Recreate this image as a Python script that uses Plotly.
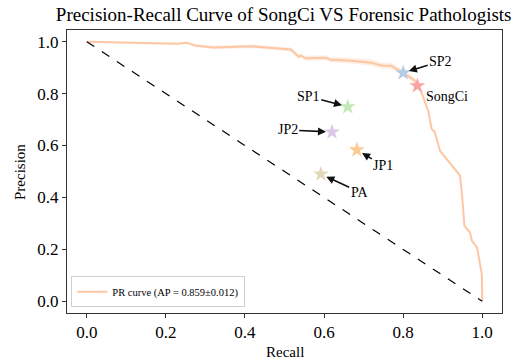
import plotly.graph_objects as go

# PR curve
recall = [0.0, 0.228, 0.254, 0.274, 0.32, 0.42, 0.516, 0.536, 0.541, 0.554, 0.605, 0.617,
          0.66, 0.72, 0.745, 0.77, 0.796, 0.829, 0.846, 0.864, 0.872, 0.88, 0.893, 0.944,
          0.949, 0.955, 0.969, 0.974, 0.987, 0.995, 0.999, 1.0]
precision = [1.0, 0.992, 0.996, 0.985, 0.978, 0.982, 0.970, 0.942, 0.946, 0.936, 0.938, 0.930,
             0.928, 0.919, 0.908, 0.907, 0.884, 0.851, 0.807, 0.730, 0.664, 0.652, 0.580, 0.484,
             0.407, 0.291, 0.265, 0.233, 0.207, 0.136, 0.104, 0.0]
band = [0.002, 0.004, 0.004, 0.005, 0.006, 0.007, 0.008, 0.009, 0.009, 0.010, 0.010, 0.010,
        0.011, 0.012, 0.012, 0.012, 0.012, 0.010, 0.008, 0.006, 0.006, 0.006, 0.006, 0.005,
        0.005, 0.004, 0.004, 0.004, 0.003, 0.003, 0.002, 0.001]

names = ["SP2", "SongCi", "SP1", "JP2", "JP1", "PA"]
pt_recall = [0.80, 0.836, 0.66, 0.62, 0.683, 0.592]
pt_precision = [0.88, 0.83, 0.749, 0.652, 0.583, 0.49]
pt_colors = ["#b4cde6", "#f9a3a6", "#c2e8b6", "#dac8e6", "#fccb94", "#e3d7b9"]
text_x = [0.895, 0.91, 0.56, 0.508, 0.75, 0.69]
text_y = [0.925, 0.79, 0.79, 0.66, 0.522, 0.42]

legend_label = "PR curve (AP = 0.859\u00b10.012)"

upper = [p + b for p, b in zip(precision, band)]
lower = [p - b for p, b in zip(precision, band)]

SERIF = "Liberation Serif"
W, H = 513, 362
ML, MR, MT, MB = 67, 11, 30, 49

fig = go.Figure()
fig.add_trace(go.Scatter(x=recall + recall[::-1], y=upper + lower[::-1], fill="toself",
                         fillcolor="rgba(253,200,170,0.3)", line=dict(width=0),
                         hoverinfo="skip", showlegend=False))
fig.add_trace(go.Scatter(x=recall, y=precision, mode="lines",
                         line=dict(color="rgba(253,196,160,0.95)", width=2),
                         name=legend_label))
fig.add_trace(go.Scatter(x=[0, 1], y=[1, 0], mode="lines",
                         line=dict(color="black", width=1.2, dash="dash"), showlegend=False))
fig.add_trace(go.Scatter(x=pt_recall, y=pt_precision, mode="markers",
                         marker=dict(symbol="star", size=12, color=pt_colors, line=dict(width=0)),
                         showlegend=False))

for n, x, y, tx, ty in zip(names, pt_recall, pt_precision, text_x, text_y):
    fig.add_annotation(x=x, y=y, ax=tx, ay=ty, axref="x", ayref="y", xref="x", yref="y",
                       text=n, showarrow=True, arrowhead=2, arrowsize=1, arrowwidth=1.6,
                       arrowcolor="#111111", standoff=6,
                       font=dict(family=SERIF, size=14, color="black"))

# axis titles placed as paper annotations
pw, ph = W - ML - MR, H - MT - MB
fig.add_annotation(text="Recall", xref="paper", yref="paper",
                   x=(285 - ML) / pw, y=-(352 - (H - MB)) / ph, xanchor="center", yanchor="middle",
                   showarrow=False, font=dict(family=SERIF, size=15, color="black"))
fig.add_annotation(text="Precision", xref="paper", yref="paper", textangle=-90,
                   x=-(ML - 20) / pw, y=((H - MB) - 172) / ph, xanchor="center", yanchor="middle",
                   showarrow=False, font=dict(family=SERIF, size=15, color="black"))

fig.update_layout(
    width=W, height=H,
    margin=dict(l=ML, r=MR, t=MT, b=MB),
    paper_bgcolor="white", plot_bgcolor="white",
    font=dict(family=SERIF, color="black"),
    title=dict(text="Precision-Recall Curve of SongCi VS Forensic Pathologists",
               x=0.553, xanchor="center", y=0.96, yanchor="middle",
               font=dict(family=SERIF, size=19, color="black")),
    legend=dict(x=0.01, y=0.02, xanchor="left", yanchor="bottom",
                bordercolor="#d0d0d0", borderwidth=1, bgcolor="rgba(255,255,255,0.8)",
                font=dict(family=SERIF, size=10.5)),
    showlegend=True,
)
fig.update_xaxes(range=[-0.05, 1.05], tickvals=[0, 0.2, 0.4, 0.6, 0.8, 1.0],
                 ticktext=["0.0", "0.2", "0.4", "0.6", "0.8", "1.0"], automargin=False,
                 ticks="outside", ticklen=4, tickcolor="#333", showgrid=False, zeroline=False,
                 showline=True, linecolor="#333", linewidth=1, mirror=True,
                 tickfont=dict(family=SERIF, size=17))
fig.update_yaxes(range=[-0.045, 1.045], tickvals=[0, 0.2, 0.4, 0.6, 0.8, 1.0],
                 ticktext=["0.0", "0.2", "0.4", "0.6", "0.8", "1.0"], automargin=False,
                 ticks="outside", ticklen=4, tickcolor="#333", showgrid=False, zeroline=False,
                 showline=True, linecolor="#333", linewidth=1, mirror=True,
                 tickfont=dict(family=SERIF, size=17))

fig.write_html("out.html", config={"displayModeBar": False},
               post_script="document.body.style.margin='0';")
